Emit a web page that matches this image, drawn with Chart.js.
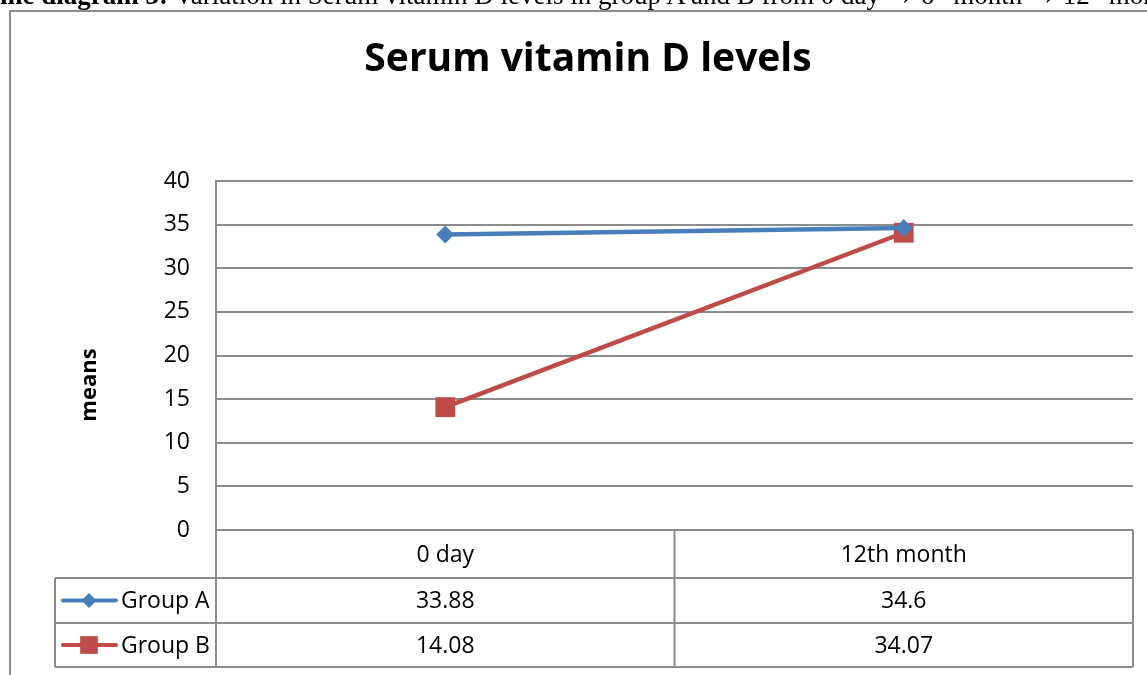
<!DOCTYPE html>
<html>
<head>
<meta charset="utf-8">
<script src="https://cdn.jsdelivr.net/npm/chart.js@4"></script>
<style>
  html, body { margin: 0; padding: 0; background: #fff; overflow: hidden; }
  #wrap { position: relative; width: 1147px; height: 675px; overflow: hidden; }
  #chart { position: absolute; left: 0; top: 0; }
  #caption {
    position: absolute; left: -18px; top: -18px; white-space: nowrap;
    font-family: "Liberation Serif", serif; font-size: 27px; line-height: 27px; color: #000;
  }
  #caption sup { font-size: 16px; line-height: 0; }
</style>
</head>
<body>
<div id="wrap">
  <canvas id="chart" width="1147" height="675"></canvas>
  <div id="caption"><b>Line diagram 3:</b> Variation in Serum vitamin D levels in group A and B from 0 day &rarr; 6<sup>th</sup> month &rarr; 12<sup>th</sup> month</div>
</div>
<script>
var categories = ['0 day', '12th month'];
var groupA = [33.88, 34.6];
var groupB = [14.08, 34.07];
var groupALabels = ['33.88', '34.6'];
var groupBLabels = ['14.08', '34.07'];
var yTicks = [0, 5, 10, 15, 20, 25, 30, 35, 40];

var FONT = '"Open Sans", "Noto Sans", sans-serif';
var GRID = '#8c8c8c';
var BLUE = '#4a7ebb';
var RED = '#be4b48';

// Frame, title, y label and the data table under the plot
var tablePlugin = {
    id: 'tablePlugin',
    beforeDraw: function(chart) {
        var ctx = chart.ctx;
        ctx.save();
        ctx.strokeStyle = GRID;
        ctx.lineWidth = 2;
        ctx.strokeRect(10, 11, 1160, 700);
        ctx.restore();
    },
    afterDraw: function(chart) {
        var ctx = chart.ctx;
        var area = chart.chartArea;
        var x = chart.scales.x;
        var rowTop = area.bottom;
        var rowH = [48, 45, 44];
        var legLeft = 55;

        ctx.save();
        // title
        ctx.fillStyle = '#000';
        ctx.font = 'bold 39px ' + FONT;
        ctx.textAlign = 'center';
        ctx.textBaseline = 'middle';
        ctx.fillText('Serum vitamin D levels', 588, 60);

        // y axis title
        ctx.save();
        ctx.translate(90, 385);
        ctx.rotate(-Math.PI / 2);
        ctx.font = 'bold 22px ' + FONT;
        ctx.fillText('means', 0, 0);
        ctx.restore();

        // table lines
        ctx.strokeStyle = GRID;
        ctx.lineWidth = 2;
        var y1 = rowTop + rowH[0];
        var y2 = y1 + rowH[1];
        var y3 = y2 + rowH[2];
        ctx.beginPath();
        ctx.moveTo(area.left, rowTop); ctx.lineTo(area.left, y3);
        ctx.moveTo(area.right, rowTop); ctx.lineTo(area.right, y3);
        var mid = (x.getPixelForValue(0) + x.getPixelForValue(1)) / 2;
        ctx.moveTo(mid, rowTop); ctx.lineTo(mid, y3);
        ctx.moveTo(legLeft, y1); ctx.lineTo(area.right, y1);
        ctx.moveTo(legLeft, y2); ctx.lineTo(area.right, y2);
        ctx.moveTo(legLeft, y3); ctx.lineTo(area.right, y3);
        ctx.moveTo(legLeft, y1); ctx.lineTo(legLeft, y3);
        ctx.stroke();

        // cell text
        ctx.font = '23px ' + FONT;
        ctx.fillStyle = '#000';
        ctx.textAlign = 'center';
        for (var i = 0; i < categories.length; i++) {
            var cx = x.getPixelForValue(i);
            ctx.fillText(categories[i], cx, rowTop + rowH[0] / 2 + 1);
            ctx.fillText(groupALabels[i], cx, y1 + rowH[1] / 2 + 1);
            ctx.fillText(groupBLabels[i], cx, y2 + rowH[2] / 2 + 1);
        }

        // legend keys
        var keys = [
            { label: 'Group A', color: BLUE, y: y1 + rowH[1] / 2, shape: 'rectRot', r: 7.5 },
            { label: 'Group B', color: RED, y: y2 + rowH[2] / 2, shape: 'rect', r: 12.5 }
        ];
        keys.forEach(function(k) {
            ctx.strokeStyle = k.color;
            ctx.lineWidth = 4;
            ctx.lineCap = 'round';
            ctx.beginPath();
            ctx.moveTo(63, k.y);
            ctx.lineTo(116, k.y);
            ctx.stroke();
            ctx.fillStyle = k.color;
            Chart.helpers.drawPoint(ctx, { pointStyle: k.shape, radius: k.r, borderWidth: 0 }, 89, k.y);
            ctx.fillStyle = '#000';
            ctx.textAlign = 'left';
            ctx.fillText(k.label, 121, k.y + 1);
        });
        ctx.restore();
    }
};

new Chart(document.getElementById('chart'), {
    type: 'line',
    data: {
        labels: categories,
        datasets: [{
            label: 'Group A',
            data: groupA,
            borderColor: BLUE,
            backgroundColor: BLUE,
            borderWidth: 4.5,
            pointStyle: 'rectRot',
            pointRadius: 9,
            pointHoverRadius: 9,
            pointBorderWidth: 0
        }, {
            label: 'Group B',
            data: groupB,
            borderColor: RED,
            backgroundColor: RED,
            borderWidth: 4.5,
            pointStyle: 'rect',
            pointRadius: 14,
            pointHoverRadius: 14,
            pointBorderWidth: 0
        }]
    },
    options: {
        responsive: false,
        animation: false,
        events: [],
        layout: { padding: { top: 181, left: 0, right: 14, bottom: 145 } },
        plugins: {
            legend: { display: false },
            title: { display: false },
            tooltip: { enabled: false }
        },
        scales: {
            x: {
                offset: true,
                grid: { display: false, drawTicks: false },
                border: { display: false },
                ticks: { display: false }
            },
            y: {
                min: 0,
                max: 40,
                afterFit: function(scale) { scale.width = 216; },
                afterBuildTicks: function(scale) {
                    scale.ticks = yTicks.map(function(v) { return { value: v }; });
                },
                grid: { color: GRID, lineWidth: 2, drawTicks: false },
                border: { display: true, color: GRID, width: 2 },
                ticks: {
                    padding: 26,
                    color: '#000',
                    font: { family: FONT, size: 23 }
                }
            }
        }
    },
    plugins: [tablePlugin]
});
</script>
</body>
</html>
